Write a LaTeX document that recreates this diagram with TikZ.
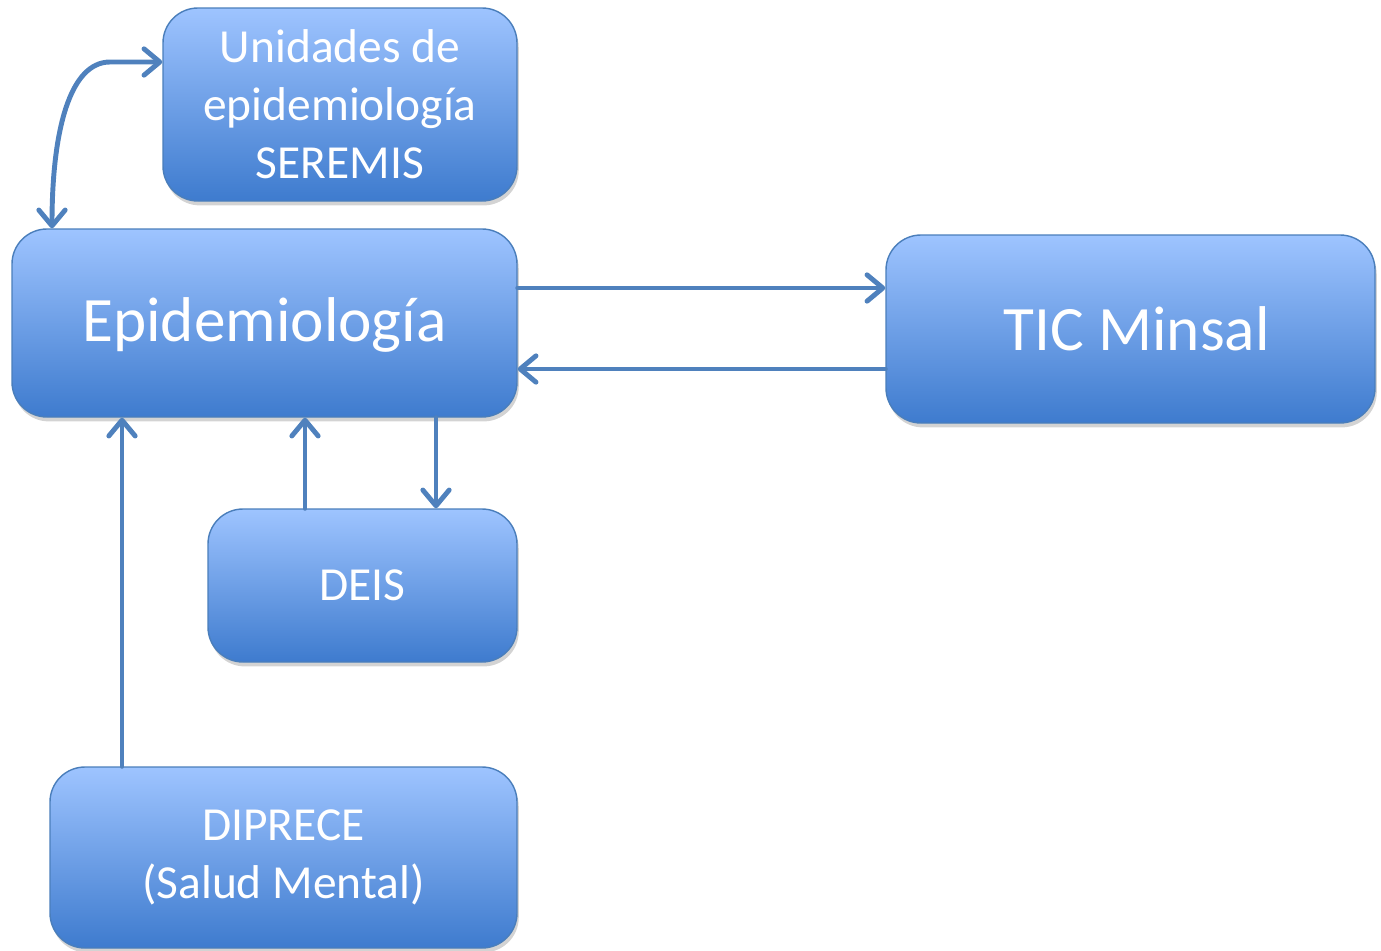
\documentclass[tikz,border=0pt]{standalone}
\usepackage{fontspec}
\setmainfont{Carlito}
\usepackage{tikz}
\usetikzlibrary{arrows.meta,shadows}
\definecolor{boxtop}{RGB}{158,196,255}
\definecolor{boxbot}{RGB}{62,123,206}
\definecolor{boxline}{RGB}{74,126,187}
\definecolor{linkcol}{RGB}{79,129,189}

\tikzset{
  box/.style={draw=boxline, line width=0.8pt, rounded corners=0.7cm,
    top color=boxtop, bottom color=boxbot, text=white, align=center,
    inner sep=0pt, font=\fontsize{27}{33}\selectfont,
    drop shadow={shadow xshift=1pt, shadow yshift=-2.5pt, opacity=0.35}},
  tip/.tip={Straight Barb[length=9pt,width=15pt,round]},
  link/.style={draw=linkcol, line width=2.8pt, line cap=round, -tip}
}

\begin{document}
\begin{tikzpicture}[x=0.02cm,y=-0.02cm]
\useasboundingbox (0,0) rectangle (1381,950);
\node[box, minimum width=354*0.02cm, minimum height=193*0.02cm] (uni) at (340,104.5) {Unidades de\\epidemiología\\SEREMIS};
\node[box, minimum width=505*0.02cm, minimum height=188*0.02cm, text depth=4pt, font=\fontsize{36}{44}\selectfont] (epi) at (264.5,323) {Epidemiología};
\node[box, minimum width=489*0.02cm, minimum height=188*0.02cm, font=\fontsize{36}{44}\selectfont] (tic) at (1130.5,329) {\hspace*{7pt}TIC Minsal};
\node[box, minimum width=309*0.02cm, minimum height=153*0.02cm] (deis) at (362.5,585.5) {DEIS};
\node[box, minimum width=467*0.02cm, minimum height=181*0.02cm] (dip) at (283.5,857.5) {DIPRECE\\(Salud Mental)};
% connectors
\draw[link, tip-tip]
  (epi.north -| 52,0) .. controls (52,130) and (70,62) .. (110,62) -- (uni.west |- 0,62);
\draw[link] (epi.east |- 0,288) -- (tic.west |- 0,288);
\draw[link] (tic.west |- 0,369) -- (epi.east |- 0,369);
\draw[link] (deis.north -| 305,0) -- (epi.south -| 305,0);
\draw[link] (epi.south -| 436,0) -- (deis.north -| 436,0);
\draw[link] (dip.north -| 122,0) -- (epi.south -| 122,0);
\end{tikzpicture}
\end{document}
